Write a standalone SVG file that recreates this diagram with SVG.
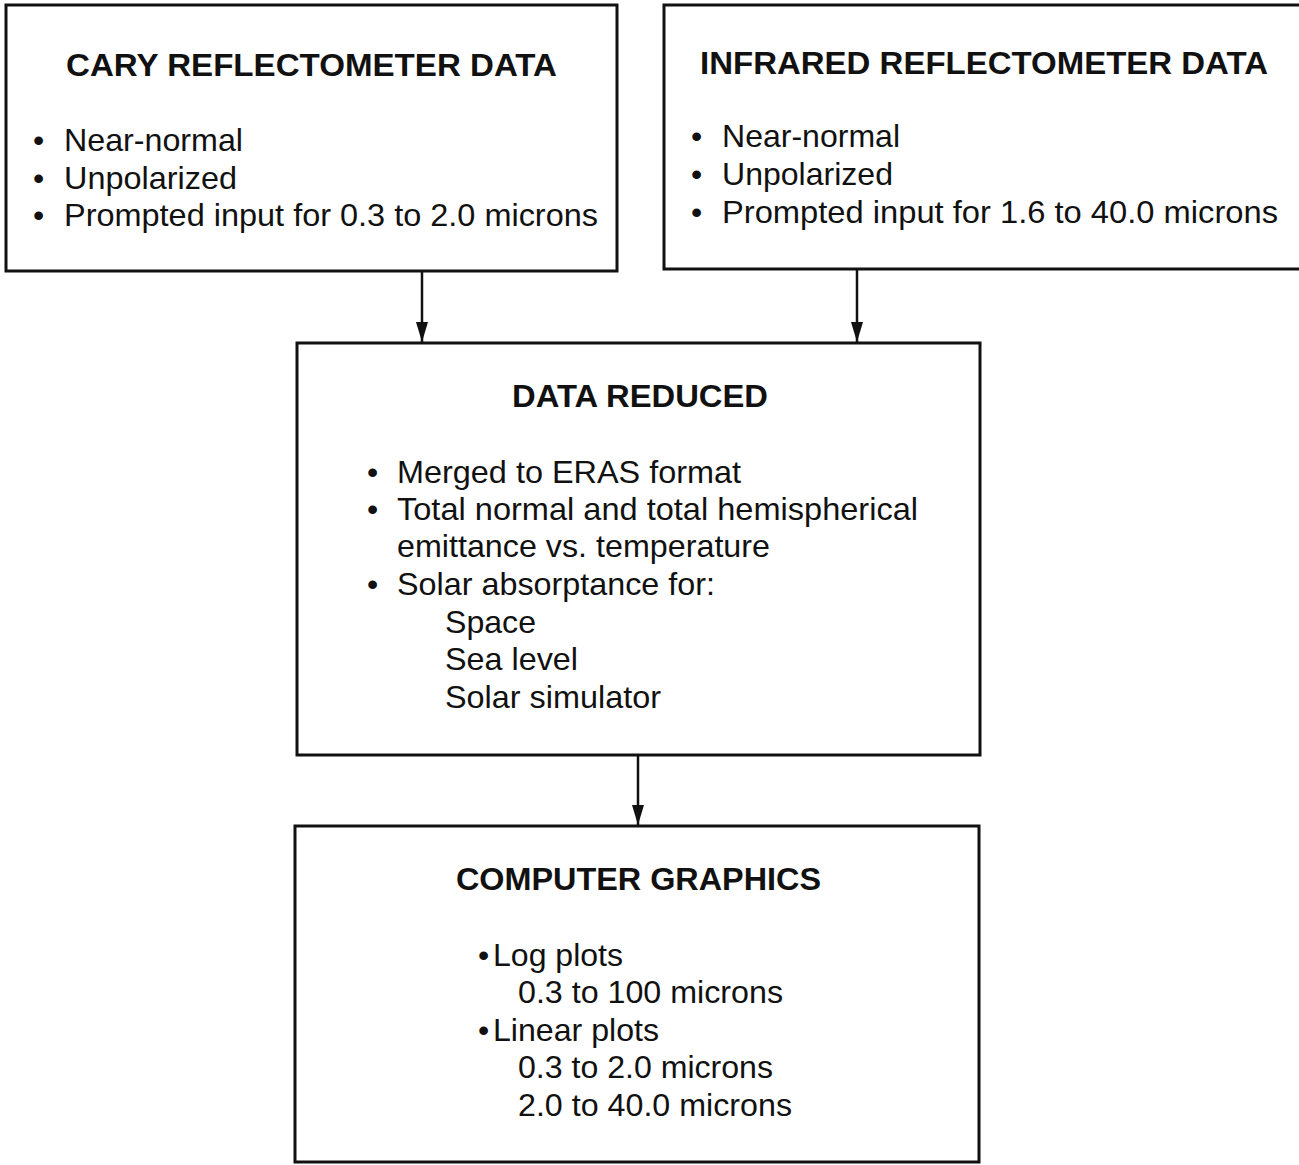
<svg xmlns="http://www.w3.org/2000/svg" width="1299" height="1165" viewBox="0 0 1299 1165">
<style>
.box{fill:#fff;stroke:#111;stroke-width:3}
.t{font-family:"Liberation Sans",Arial,sans-serif;font-size:32px;fill:#111}
.h{font-weight:bold;font-size:31px}
.conn{stroke:#111;stroke-width:2.5;fill:none}
</style>
<defs>
<marker id="arr" viewBox="0 0 12 20" refX="6" refY="20" markerWidth="12" markerHeight="20" markerUnits="userSpaceOnUse" orient="0">
<path d="M0,0 L12,0 L6,20 Z" fill="#111"/>
</marker>
</defs>
<rect width="1299" height="1165" fill="#fff"/>
<g id="connectors">
<line class="conn" x1="422" y1="271" x2="422" y2="342" marker-end="url(#arr)"/>
<line class="conn" x1="857" y1="269" x2="857" y2="342" marker-end="url(#arr)"/>
<line class="conn" x1="638" y1="755" x2="638" y2="825" marker-end="url(#arr)"/>
</g>
<g id="cary">
<rect class="box" x="6" y="5" width="611" height="266"/>
<text class="t h" x="66" y="76" textLength="491" lengthAdjust="spacingAndGlyphs">CARY REFLECTOMETER DATA</text>
<text class="t" x="33" y="151">•</text>
<text class="t" x="64" y="151" textLength="179" lengthAdjust="spacingAndGlyphs">Near-normal</text>
<text class="t" x="33" y="189">•</text>
<text class="t" x="64" y="189" textLength="173" lengthAdjust="spacingAndGlyphs">Unpolarized</text>
<text class="t" x="33" y="226">•</text>
<text class="t" x="64" y="226" textLength="534" lengthAdjust="spacingAndGlyphs">Prompted input for 0.3 to 2.0 microns</text>
</g>
<g id="infrared">
<rect class="box" x="664" y="5" width="640" height="264"/>
<text class="t h" x="700" y="74" textLength="568" lengthAdjust="spacingAndGlyphs">INFRARED REFLECTOMETER DATA</text>
<text class="t" x="691" y="147">•</text>
<text class="t" x="722" y="147" textLength="178" lengthAdjust="spacingAndGlyphs">Near-normal</text>
<text class="t" x="691" y="185">•</text>
<text class="t" x="722" y="185" textLength="171" lengthAdjust="spacingAndGlyphs">Unpolarized</text>
<text class="t" x="691" y="223">•</text>
<text class="t" x="722" y="223" textLength="556" lengthAdjust="spacingAndGlyphs">Prompted input for 1.6 to 40.0 microns</text>
</g>
<g id="reduced">
<rect class="box" x="297" y="343" width="683" height="412"/>
<text class="t h" x="512" y="407" textLength="256" lengthAdjust="spacingAndGlyphs">DATA REDUCED</text>
<text class="t" x="367" y="483">•</text>
<text class="t" x="397" y="483" textLength="344" lengthAdjust="spacingAndGlyphs">Merged to ERAS format</text>
<text class="t" x="367" y="520">•</text>
<text class="t" x="397" y="520" textLength="521" lengthAdjust="spacingAndGlyphs">Total normal and total hemispherical</text>
<text class="t" x="397" y="557" textLength="373" lengthAdjust="spacingAndGlyphs">emittance vs. temperature</text>
<text class="t" x="367" y="595">•</text>
<text class="t" x="397" y="595" textLength="318" lengthAdjust="spacingAndGlyphs">Solar absorptance for:</text>
<text class="t" x="445" y="633" textLength="91" lengthAdjust="spacingAndGlyphs">Space</text>
<text class="t" x="445" y="670" textLength="133" lengthAdjust="spacingAndGlyphs">Sea level</text>
<text class="t" x="445" y="708" textLength="216" lengthAdjust="spacingAndGlyphs">Solar simulator</text>
</g>
<g id="graphics">
<rect class="box" x="295" y="826" width="684" height="336"/>
<text class="t h" x="456" y="890" textLength="365" lengthAdjust="spacingAndGlyphs">COMPUTER GRAPHICS</text>
<text class="t" x="478" y="966">•</text>
<text class="t" x="493" y="966" textLength="130" lengthAdjust="spacingAndGlyphs">Log plots</text>
<text class="t" x="518" y="1003" textLength="265" lengthAdjust="spacingAndGlyphs">0.3 to 100 microns</text>
<text class="t" x="478" y="1041">•</text>
<text class="t" x="493" y="1041" textLength="166" lengthAdjust="spacingAndGlyphs">Linear plots</text>
<text class="t" x="518" y="1078" textLength="255" lengthAdjust="spacingAndGlyphs">0.3 to 2.0 microns</text>
<text class="t" x="518" y="1116" textLength="274" lengthAdjust="spacingAndGlyphs">2.0 to 40.0 microns</text>
</g>
</svg>
